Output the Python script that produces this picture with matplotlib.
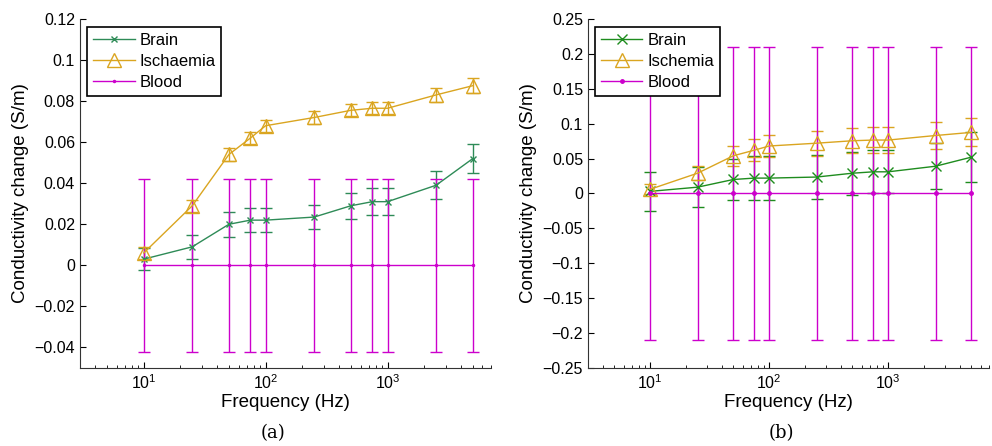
import numpy as np
import matplotlib.pyplot as plt
from matplotlib.ticker import FuncFormatter, LogLocator, NullFormatter

plt.rcParams['font.family'] = ['Liberation Sans', 'DejaVu Sans']

freq = [10, 25, 50, 75, 100, 250, 500, 750, 1000, 2500, 5000]

brain = [0.003, 0.009, 0.020, 0.022, 0.022, 0.0235, 0.029, 0.031, 0.031, 0.039, 0.052]
isch = [0.006, 0.029, 0.054, 0.062, 0.068, 0.072, 0.0755, 0.0765, 0.0765, 0.083, 0.0875]
blood = [0, 0, 0, 0, 0, 0, 0, 0, 0, 0, 0]

# panel (a) error bars
brain_err_a = [0.0055, 0.006, 0.006, 0.006, 0.006, 0.006, 0.0063, 0.0065, 0.0065, 0.0068, 0.007]
isch_err_a = [0.003, 0.003, 0.003, 0.003, 0.003, 0.003, 0.003, 0.003, 0.003, 0.0035, 0.0035]
blood_err_a = [0.042] * 11

# panel (b) error bars
brain_err_b = [0.028, 0.029, 0.030, 0.031, 0.031, 0.031, 0.031, 0.031, 0.031, 0.033, 0.036]
isch_err_b = [0.007, 0.010, 0.014, 0.016, 0.016, 0.018, 0.018, 0.018, 0.018, 0.019, 0.020]
blood_err_b = [0.21] * 11

green_a = '#2e8b57'
green_b = '#1e8c1e'
gold = '#daa520'
magenta = '#cc00cc'

fig = plt.figure(figsize=(9.92, 4.46), dpi=100)
ax_a = fig.add_axes([0.0806, 0.175, 0.414, 0.7825])
ax_b = fig.add_axes([0.5927, 0.175, 0.404, 0.7825])


def fmt(v, pos):
    s = f'{v:g}'
    if abs(v) < 1e-12:
        s = '0'
    return s.replace('-', '\u2212')


def style(ax, ylim, yticks):
    ax.set_xscale('log')
    ax.set_xlim(3, 7000)
    ax.set_ylim(*ylim)
    ax.set_yticks(yticks)
    ax.yaxis.set_major_formatter(FuncFormatter(fmt))
    ax.xaxis.set_major_locator(LogLocator(base=10, numticks=10))
    ax.xaxis.set_minor_locator(LogLocator(base=10, subs=np.arange(2, 10), numticks=10))
    ax.xaxis.set_minor_formatter(NullFormatter())
    for s in ['top', 'right']:
        ax.spines[s].set_visible(False)
    ax.spines['left'].set_color('#333333')
    ax.spines['bottom'].set_color('#333333')
    ax.tick_params(direction='in', labelsize=11.5, length=4)
    ax.tick_params(which='minor', direction='in', length=2)
    ax.set_xlabel('Frequency (Hz)', fontsize=13.5, labelpad=2)
    ax.set_ylabel('Conductivity change (S/m)', fontsize=13.5, labelpad=4)


# panel (a)
ax_a.errorbar(freq, brain, yerr=brain_err_a, color=green_a, marker='x', ms=4,
              lw=1, capsize=4, label='Brain')
ax_a.errorbar(freq, isch, yerr=isch_err_a, color=gold, marker='^', ms=10,
              mfc='none', lw=1, capsize=4, label='Ischaemia')
ax_a.errorbar(freq, blood, yerr=blood_err_a, color=magenta, marker='.', ms=3,
              lw=1, capsize=4, label='Blood')
style(ax_a, (-0.05, 0.12), np.round(np.arange(-0.04, 0.1201, 0.02), 2))

# panel (b)
ax_b.errorbar(freq, brain, yerr=brain_err_b, color=green_b, marker='x', ms=7,
              lw=1, capsize=4, label='Brain')
ax_b.errorbar(freq, isch, yerr=isch_err_b, color=gold, marker='^', ms=10,
              mfc='none', lw=1, capsize=4, label='Ischemia')
ax_b.errorbar(freq, blood, yerr=blood_err_b, color=magenta, marker='.', ms=5,
              lw=1, capsize=4, label='Blood')
style(ax_b, (-0.25, 0.25), np.round(np.arange(-0.25, 0.2501, 0.05), 2))

for ax in (ax_a, ax_b):
    handles, labels = ax.get_legend_handles_labels()
    handles = [h[0] for h in handles]
    leg = ax.legend(handles, labels, loc='upper left', fontsize=12,
                    bbox_to_anchor=(0.005, 0.99), fancybox=False,
                    edgecolor='black', framealpha=1, handlelength=2.5,
                    borderaxespad=0.3, borderpad=0.35, labelspacing=0.35,
                    handletextpad=0.3)
    leg.get_frame().set_linewidth(1.2)

fig.text(0.275, 0.03, '(a)', ha='center', va='center', fontsize=13,
         family='DejaVu Serif')
fig.text(0.788, 0.03, '(b)', ha='center', va='center', fontsize=13,
         family='DejaVu Serif')

fig.savefig('out.png', dpi=100)
